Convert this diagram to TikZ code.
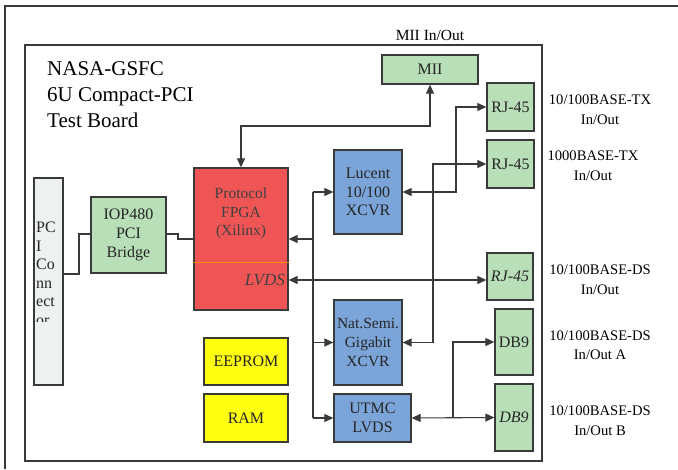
\documentclass[tikz,border=0pt]{standalone}
\usepackage{fontspec}
\setmainfont{Liberation Serif}
\usetikzlibrary{arrows.meta}
\definecolor{lgreen}{HTML}{B8DFB8}
\definecolor{lblue}{HTML}{7BA4D9}
\definecolor{lred}{HTML}{F05555}
\definecolor{lyellow}{HTML}{FFFF10}
\definecolor{lgray}{HTML}{EDF2F1}
\definecolor{linec}{HTML}{3A3A3A}
\begin{document}
\begin{tikzpicture}[x=1pt,y=-1pt,
  box/.style={draw=linec,line width=1.3pt,inner sep=0pt,align=center,font=\fontsize{16}{18.7}\selectfont,text=black!85},
  gbox/.style={box,fill=lgreen},
  bbox/.style={box,fill=lblue},
  ybox/.style={box,fill=lyellow},
  lab/.style={align=center,font=\fontsize{14.6}{19.5}\selectfont,inner sep=0pt},
  wire/.style={draw=linec,line width=1.1pt},
  tip/.style={-{Triangle[length=9pt,width=8pt]}},
  tips/.style={{Triangle[length=9pt,width=8pt]}-{Triangle[length=9pt,width=8pt]}}]
\useasboundingbox (0,0) rectangle (678,469);
% frames
\draw[line width=1.2pt,linec] (5,469) -- (5,6) -- (678,6);
\draw[line width=1.2pt,linec] (25,45) rectangle (542,461);
% title
\node[anchor=north west,align=left,inner sep=0pt,font=\fontsize{21}{26}\selectfont] (title) at (47,61) {NASA-GSFC\\6U Compact-PCI\\Test Board};
\node[lab,font=\fontsize{15.5}{19}\selectfont] (miilab) at (430,35) {MII In/Out};
% boxes
\node[gbox,minimum width=96pt,minimum height=29pt] (mii) at (430,69.5) {MII};
\node[gbox,minimum width=47pt,minimum height=48pt] (rj1) at (510.5,107) {RJ-45};
\node[gbox,minimum width=47pt,minimum height=48pt] (rj2) at (510.5,164) {RJ-45};
\node[gbox,minimum width=46pt,minimum height=47pt] (rj3) at (510,276.5) {\itshape RJ-45};
\node[gbox,minimum width=38pt,minimum height=66pt] (db9a) at (514,342) {DB9};
\node[gbox,minimum width=38pt,minimum height=67pt] (db9b) at (514,417.5) {\itshape DB9};
\node[bbox,minimum width=68pt,minimum height=84pt] (lucent) at (368,192) {Lucent\\10/100\\XCVR};
\node[bbox,minimum width=68pt,minimum height=85pt,font=\fontsize{15.5}{18.7}\selectfont] (nat) at (368,342.5) {Nat.Semi.\\Gigabit\\XCVR};
\node[bbox,minimum width=77pt,minimum height=48pt] (utmc) at (372.5,418) {UTMC\\LVDS};
\node[box,fill=lred,minimum width=94pt,minimum height=142pt] (fpga) at (241,239) {};
\node[lab,font=\fontsize{15.5}{18.5}\selectfont,text=black!75] (fpgatxt) at (241,213.5) {Protocol\\FPGA\\(Xilinx)};
\draw[orange!90!yellow,line width=0.7pt] (fpga.west |- 0,262) -- (fpga.east |- 0,262);
\node[anchor=east,inner sep=0pt,font=\fontsize{17}{19}\selectfont\itshape,text=black!75] (lvds) at (285,280) {LVDS};
\node[gbox,minimum width=75pt,minimum height=76pt,font=\fontsize{16}{19}\selectfont] (iop) at (128.5,235) {IOP480\\PCI\\Bridge};
\node[ybox,minimum width=84pt,minimum height=47pt] (eeprom) at (246,361.5) {EEPROM};
\node[ybox,minimum width=84pt,minimum height=48pt] (ram) at (246,418) {RAM};
\node[box,fill=lgray,minimum width=29pt,minimum height=207pt] (pci) at (48.5,281.5) {};
\begin{scope}
\clip (pci.north west) rectangle (63,321);
\node[anchor=north west,align=left,inner sep=0pt,font=\fontsize{16}{18.5}\selectfont,text=black!85] (pcitxt) at (36,222) {PC\\I\\Co\\nn\\ect\\or};
\end{scope}
% right labels
\node[lab] (l1) at (600,109.5) {10/100BASE-TX\\In/Out};
\node[lab] (l2) at (593,165.5) {1000BASE-TX\\In/Out};
\node[lab] (l3) at (600,279.5) {10/100BASE-DS\\In/Out};
\node[lab] (l4) at (600,345) {10/100BASE-DS\\In/Out A};
\node[lab] (l5) at (600,420.5) {10/100BASE-DS\\In/Out B};
% wires
\coordinate (pcia) at (63,274);
\draw[wire] (pcia) -- (79,274) -- (79,234) -- (iop.west |- 0,234);
\draw[wire] (iop.east |- 0,234) -- (178,234) -- (178,239) -- (fpga.west);
\draw[wire,tips] (fpga.north) -- (241,126) -- (430,126) -- (mii.south);
% bus
\coordinate (busT) at (313,192);
\coordinate (busB) at (313,418);
\draw[wire] (busT) -- (busB);
\draw[wire,tip] (busT) -- (lucent.west);
\draw[wire,tip] (313,239) -- (fpga.east);
\draw[wire,tip] (313,342.5) -- (nat.west);
\draw[wire,tip] (busB) -- (utmc.west);
% lvds
\draw[wire,tips] (lvds -| fpga.east) -- (lvds -| rj3.west);
% lucent - rj1
\draw[wire,tips] (lucent.east) -- (456,192) -- (456,107) -- (rj1.west);
% nat - rj2
\draw[wire,tips] (nat.east) -- (433,342.5) -- (433,164) -- (rj2.west);
% utmc - db9
\draw[wire,tips] (utmc.east) -- (db9b.west);
\draw[wire,tip] (453,418) -- (453,342) -- (db9a.west);
\end{tikzpicture}
\end{document}
